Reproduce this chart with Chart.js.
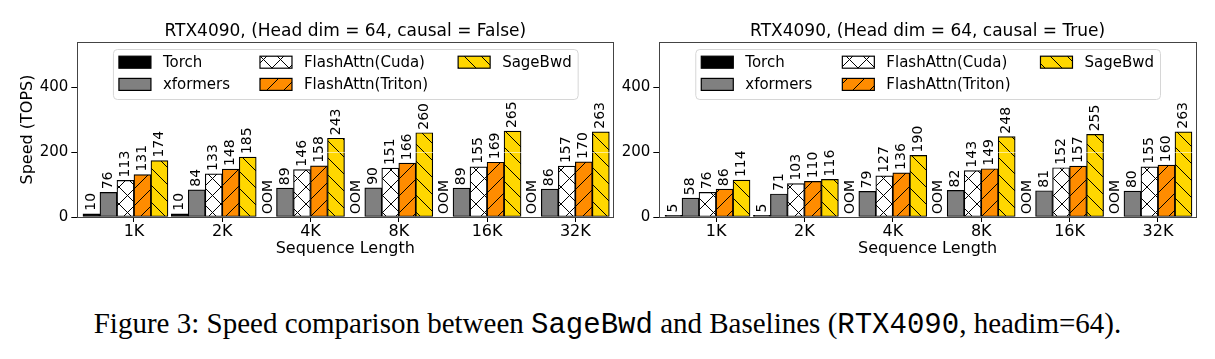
<!DOCTYPE html>
<html>
<head>
<meta charset="utf-8">
<script src="https://cdn.jsdelivr.net/npm/chart.js@4.4.1/dist/chart.umd.min.js"></script>
<style>
  body { margin: 0; background: #fff; }
  #wrap { position: relative; width: 1215px; height: 359px; overflow: hidden; background: #fff; }
  .box { position: absolute; top: 0; height: 270px; }
  #leftBox { left: 0; width: 620px; }
  #rightBox { left: 620px; width: 595px; }
  #caption { position: absolute; left: 0; width: 1215px; top: 306px; text-align: center;
             font-family: "Liberation Serif", serif; font-size: 29px; line-height: 34px; color: #000; white-space: nowrap; }
  #caption .tt { font-family: "Liberation Mono", monospace; }
</style>
</head>
<body>
<div id="wrap">
  <div class="box" id="leftBox"><canvas id="left"></canvas></div>
  <div class="box" id="rightBox"><canvas id="right"></canvas></div>
  <div id="caption">Figure 3: Speed comparison between <span class="tt">SageBwd</span> and Baselines (<span class="tt">RTX4090</span>, headim=64).</div>
</div>
<script>
const categories = ['1K', '2K', '4K', '8K', '16K', '32K'];
const seriesNames = ['Torch', 'xformers', 'FlashAttn(Cuda)', 'FlashAttn(Triton)', 'SageBwd'];

// causal = False  (null = OOM)
const torchFalse    = [10, 10, null, null, null, null];
const xformersFalse = [76, 84, 89, 90, 89, 86];
const cudaFalse     = [113, 133, 146, 151, 155, 157];
const tritonFalse   = [131, 148, 158, 166, 169, 170];
const sageFalse     = [174, 185, 243, 260, 265, 263];

// causal = True
const torchTrue    = [5, 5, null, null, null, null];
const xformersTrue = [58, 71, 79, 82, 81, 80];
const cudaTrue     = [76, 103, 127, 143, 152, 155];
const tritonTrue   = [86, 110, 136, 149, 157, 160];
const sageTrue     = [114, 116, 190, 248, 255, 263];

const yTicks = [0, 200, 400];
const yMax = 540;

Chart.defaults.font.family = 'DejaVu Sans';
Chart.defaults.color = '#000';

// bars are 17px wide, group sits half a bar left of the tick
const groupShift = -0.0965;

function hatch(bg, kind) {
  const t = 17;
  const c = document.createElement('canvas');
  c.width = t; c.height = t;
  const g = c.getContext('2d');
  g.fillStyle = bg;
  g.fillRect(0, 0, t, t);
  g.strokeStyle = '#000';
  g.lineWidth = 1;
  const seg = (x1, y1, x2, y2) => { g.beginPath(); g.moveTo(x1, y1); g.lineTo(x2, y2); g.stroke(); };
  if (kind === '/' || kind === 'x') {
    seg(-1, t + 1, t + 1, -1); seg(-1, 1, 1, -1); seg(t - 1, t + 1, t + 1, t - 1);
  }
  if (kind === '\\' || kind === 'x') {
    seg(-1, -1, t + 1, t + 1); seg(t - 1, -1, t + 1, 1); seg(-1, t - 1, 1, t + 1);
  }
  return g.createPattern(c, 'repeat');
}

const fills = [
  '#000000',
  '#808080',
  hatch('#ffffff', 'x'),
  hatch('#ff8c00', '/'),
  hatch('#ffd700', '\\'),
];

const overlay = {
  id: 'overlay',
  afterDatasetsDraw(chart) {
    const ctx = chart.ctx;
    const a = chart.chartArea;
    const ys = chart.scales.y;

    // light grid on top of bars
    ctx.save();
    ctx.strokeStyle = 'rgba(255,255,255,0.55)';
    ctx.lineWidth = 1;
    yTicks.forEach(v => {
      if (v === 0) return;
      const y = Math.round(ys.getPixelForValue(v)) + 0.5;
      ctx.beginPath(); ctx.moveTo(a.left, y); ctx.lineTo(a.right, y); ctx.stroke();
    });
    ctx.restore();

    // value labels
    ctx.save();
    ctx.fillStyle = '#000';
    ctx.font = '14px "DejaVu Sans"';
    ctx.textAlign = 'left';
    ctx.textBaseline = 'middle';
    chart.data.datasets.forEach((ds, k) => {
      const meta = chart.getDatasetMeta(k);
      meta.data.forEach((bar, i) => {
        const v = ds.data[i].y;
        const text = v == null ? 'OOM' : String(v);
        const x = isNaN(bar.x) ? chart.scales.x.getPixelForValue(ds.data[i].x) : bar.x;
        const y = v == null ? ys.getPixelForValue(0) : bar.y;
        ctx.save();
        ctx.translate(x, y - 3);
        ctx.rotate(-Math.PI / 2);
        ctx.fillText(text, 0, 0);
        ctx.restore();
      });
    });
    ctx.restore();

    // frame
    ctx.save();
    ctx.strokeStyle = '#444';
    ctx.lineWidth = 1;
    ctx.strokeRect(Math.round(a.left) + 0.5, Math.round(a.top) + 0.5,
                   Math.round(a.right - a.left), Math.round(a.bottom - a.top));
    ctx.restore();

    // legend, 3 columns, filled column by column
    ctx.save();
    ctx.font = '15px "DejaVu Sans"';
    const items = chart.data.datasets.map(ds => ({ label: ds.label, fill: ds.backgroundColor }));
    const cols = [];
    for (let k = 0; k < items.length; k += 2) cols.push(items.slice(k, k + 2));
    const colW = cols.map(c => 44 + Math.max(...c.map(it => ctx.measureText(it.label).width)));
    const boxW = 12 + colW.reduce((s, w) => s + w, 0) + 30 * (cols.length - 1);
    const boxH = 50;
    const bx = (a.left + a.right) / 2 - boxW / 2;
    const by = a.top + 7;
    ctx.beginPath();
    ctx.roundRect(bx + 0.5, by + 0.5, boxW, boxH, 4);
    ctx.fillStyle = 'rgba(255,255,255,0.8)';
    ctx.fill();
    ctx.strokeStyle = '#d6d6d6';
    ctx.lineWidth = 1;
    ctx.stroke();
    let cx = bx + 6;
    cols.forEach((c, ci) => {
      c.forEach((it, ri) => {
        const cy = by + 13.2 + ri * 22.2;
        ctx.fillStyle = it.fill;
        ctx.fillRect(cx, cy - 6, 32, 12);
        ctx.strokeStyle = '#000';
        ctx.lineWidth = 1.2;
        ctx.strokeRect(cx, cy - 6, 32, 12);
        ctx.fillStyle = '#000';
        ctx.textAlign = 'left';
        ctx.textBaseline = 'middle';
        ctx.fillText(it.label, cx + 44, cy + 1);
      });
      cx += colW[ci] + 30;
    });
    ctx.restore();
  }
};

function makeChart(id, title, values, withYTitle, areaLeft, padRight) {
  const datasets = seriesNames.map((name, k) => ({
    label: name,
    data: categories.map((c, i) => ({ x: i + groupShift, y: values[k][i] })),
    backgroundColor: fills[k],
    borderColor: '#000',
    borderWidth: 1.2,
    borderSkipped: false,
    barThickness: 17,
  }));

  return new Chart(document.getElementById(id), {
    type: 'bar',
    data: { datasets },
    options: {
      responsive: true,
      maintainAspectRatio: false,
      animation: false,
      layout: { padding: { left: 0, right: padRight, top: 0, bottom: 12 } },
      plugins: {
        legend: { display: false },
        tooltip: { enabled: false },
      },
      scales: {
        x: {
          type: 'linear',
          offset: false,
          min: -0.642,
          max: 5.43,
          afterFit: s => { s.height = 41; },
          ticks: {
            stepSize: 1,
            includeBounds: false,
            autoSkip: false,
            maxRotation: 0,
            padding: 0,
            color: '#000',
            font: { size: 16 },
            callback: v => categories[v] ?? '',
          },
          grid: { offset: false, drawOnChartArea: false, drawTicks: true, tickLength: 5, color: '#000' },
          border: { display: false },
          title: {
            display: true,
            text: 'Sequence Length',
            color: '#000',
            font: { size: 16 },
            padding: { top: 0, bottom: 0 },
          },
        },
        // top axis only carries the subplot title, centred over the plot area
        xTop: {
          type: 'linear',
          position: 'top',
          min: 0,
          max: 1,
          afterFit: s => { s.height = 42; },
          ticks: { display: false },
          grid: { display: false },
          border: { display: false },
          title: {
            display: true,
            text: title,
            color: '#000',
            font: { size: 17 },
            padding: { top: 21, bottom: 0 },
          },
        },
        y: {
          min: 0,
          max: yMax,
          afterFit: s => { s.width = areaLeft; },
          afterBuildTicks: s => { s.ticks = yTicks.map(v => ({ value: v })); },
          ticks: { padding: 3, color: '#000', font: { size: 15 } },
          grid: { drawOnChartArea: false, drawTicks: true, tickLength: 6, color: '#000' },
          border: { display: false },
          title: {
            display: withYTitle,
            text: 'Speed (TOPS)',
            color: '#000',
            font: { size: 16 },
            padding: { top: 18.7, bottom: 0 },
          },
        },
      },
    },
    plugins: [overlay],
  });
}

makeChart('left', 'RTX4090, (Head dim = 64, causal = False)',
  [torchFalse, xformersFalse, cudaFalse, tritonFalse, sageFalse], true, 77.3, 6.7);
makeChart('right', 'RTX4090, (Head dim = 64, causal = True)',
  [torchTrue, xformersTrue, cudaTrue, tritonTrue, sageTrue], false, 39.3, 19);
</script>
</body>
</html>
